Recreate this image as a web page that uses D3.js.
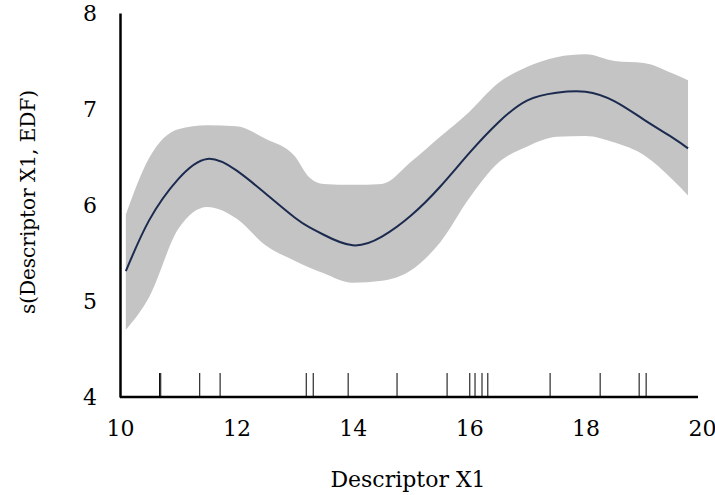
<!DOCTYPE html>
<html>
<head>
<meta charset="utf-8">
<script src="https://cdn.jsdelivr.net/npm/d3@7"></script>
<style>
  body { margin: 0; background: #fff; }
  text { font-family: "DejaVu Serif", serif; fill: #000; }
</style>
</head>
<body>
<div id="chart"></div>
<script>
(function() {
    let w = 715;
    let h = 495;

    // smooth term s(Descriptor X1) with its confidence band
    let xs    = [10.1, 10.5, 11.0, 11.5, 12.0, 12.5, 13.0, 13.25, 13.5, 14.0, 14.5, 15.0, 15.5, 16.0, 16.5, 17.0, 17.5, 18.0, 18.5, 19.0, 19.5, 19.76];
    let fit   = [5.31, 5.84, 6.27, 6.48, 6.36, 6.12, 5.87, 5.77, 5.69, 5.58, 5.67, 5.89, 6.19, 6.54, 6.86, 7.09, 7.17, 7.18, 7.08, 6.89, 6.70, 6.59];
    let upper = [5.90, 6.49, 6.79, 6.83, 6.82, 6.69, 6.51, 6.29, 6.22, 6.21, 6.22, 6.45, 6.71, 6.97, 7.27, 7.44, 7.54, 7.57, 7.50, 7.48, 7.37, 7.30];
    let lower = [4.70, 5.04, 5.75, 5.98, 5.86, 5.58, 5.42, 5.35, 5.29, 5.19, 5.21, 5.32, 5.61, 6.07, 6.44, 6.61, 6.71, 6.72, 6.65, 6.52, 6.26, 6.10];

    // observed values (rug)
    let rug = [10.68, 10.70, 11.37, 11.72, 13.20, 13.32, 13.92, 14.76, 15.62, 16.01, 16.10, 16.22, 16.32, 17.39, 18.25, 18.92, 19.04];

    let xTicks = [10, 12, 14, 16, 18, 20];
    let yTicks = [4, 5, 6, 7, 8];

    let svg = d3.select("#chart")
        .append("svg")
        .attr("width", w)
        .attr("height", h);

    let x = d3.scaleLinear().domain([10, 20]).range([120, 702]);
    let y = d3.scaleLinear().domain([4, 8]).range([397, 13]);

    let pts = xs.map((d, i) => ({x: d, fit: fit[i], lo: lower[i], hi: upper[i]}));

    let band = d3.area()
        .x((d) => x(d.x))
        .y0((d) => y(d.lo))
        .y1((d) => y(d.hi))
        .curve(d3.curveMonotoneX);

    svg.append("path")
        .datum(pts)
        .attr("d", band)
        .attr("fill", "#c4c4c4");

    let line = d3.line()
        .x((d) => x(d.x))
        .y((d) => y(d.fit))
        .curve(d3.curveNatural);

    svg.append("path")
        .datum(pts)
        .attr("d", line)
        .attr("fill", "none")
        .attr("stroke", "#1b2a4e")
        .attr("stroke-width", 2);

    // rug marks
    svg.selectAll(".rug")
        .data(rug)
        .enter()
        .append("line")
        .attr("class", "rug")
        .attr("x1", (d) => x(d))
        .attr("x2", (d) => x(d))
        .attr("y1", y(4))
        .attr("y2", y(4.25))
        .attr("stroke", "#000")
        .attr("stroke-width", 1);

    // axes
    let xAxis = d3.axisBottom(x).tickValues(xTicks).tickSize(0).tickFormat(d3.format("d"));
    let gx = svg.append("g")
        .attr("transform", "translate(0," + y(4) + ")")
        .call(xAxis);
    gx.select(".domain").attr("stroke", "#000").attr("stroke-width", 2.5).attr("d", "M" + x(10) + ",0H" + (x(20) - 4));
    gx.selectAll("text")
        .attr("y", 39)
        .attr("dy", null)
        .style("font-size", "22px")
        .style("font-family", "DejaVu Serif, serif");

    let yAxis = d3.axisLeft(y).tickValues(yTicks).tickSize(0).tickPadding(23).tickFormat(d3.format("d"));
    let gy = svg.append("g")
        .attr("transform", "translate(" + x(10) + ",0)")
        .call(yAxis);
    gy.select(".domain").attr("stroke", "#000").attr("stroke-width", 2.5);
    gy.selectAll("text").style("font-size", "22px").style("font-family", "DejaVu Serif, serif");

    svg.append("text")
        .attr("x", 408)
        .attr("y", 487)
        .attr("text-anchor", "middle")
        .style("font-size", "22px")
        .text("Descriptor X1");

    svg.append("text")
        .attr("transform", "translate(35,202) rotate(-90)")
        .attr("text-anchor", "middle")
        .style("font-size", "20px")
        .text("s(Descriptor X1, EDF)");
})();
</script>
</body>
</html>
